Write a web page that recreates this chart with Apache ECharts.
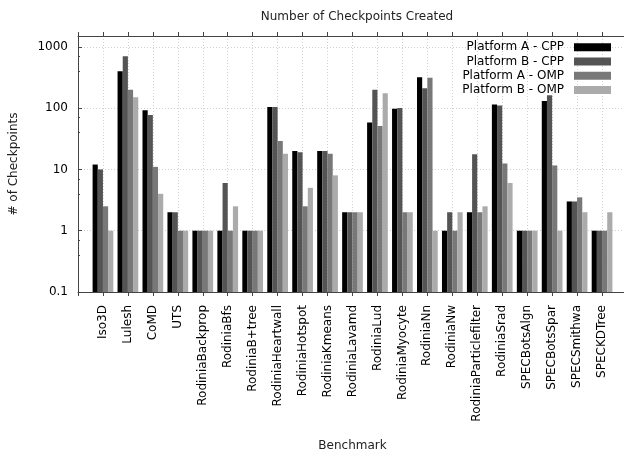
<!DOCTYPE html>
<html>
<head>
<meta charset="utf-8">
<script src="https://cdn.jsdelivr.net/npm/echarts@6/dist/echarts.min.js"></script>
<style>
  html, body { margin: 0; padding: 0; background: #fff; }
  #chart { width: 624px; height: 452px; }
</style>
</head>
<body>
<div id="chart"></div>
<script>
// Benchmarks (the axis has an empty slot at each end)
const benchmarks = [
  'Iso3D', 'Lulesh', 'CoMD', 'UTS', 'RodiniaBackprop', 'RodiniaBfs', 'RodiniaB+tree',
  'RodiniaHeartwall', 'RodiniaHotspot', 'RodiniaKmeans', 'RodiniaLavamd', 'RodiniaLud',
  'RodiniaMyocyte', 'RodiniaNn', 'RodiniaNw', 'RodiniaParticlefilter', 'RodiniaSrad',
  'SPECBotsAlgn', 'SPECBotsSpar', 'SPECSmithwa', 'SPECKDTree'
];

const seriesNames = ['Platform A - CPP', 'Platform B - CPP', 'Platform A - OMP', 'Platform B - OMP'];

// Checkpoint counts per benchmark
const platformA_CPP = [12, 400, 92, 2, 1, 1, 1, 104, 20, 20, 2, 58, 98, 320, 1, 2, 115, 1, 130, 3, 1];
const platformB_CPP = [10, 700, 77, 2, 1, 6, 1, 104, 19, 20, 2, 200, 100, 210, 2, 17.6, 110, 1, 162, 3, 1];
const platformA_OMP = [2.5, 200, 11, 1, 1, 1, 1, 29, 2.5, 18, 2, 51, 2, 314, 1, 2, 12.5, 1, 11.6, 3.5, 1];
const platformB_OMP = [1, 150, 4, 1, 1, 2.5, 1, 18, 5, 8, 2, 175, 2, 1, 2, 2.5, 6, 1, 1, 2, 2];

const yTickValues = [0.1, 1, 10, 100, 1000];

const colors = ['#000000', '#545454', '#787878', '#ababab'];
const FONT = 'DejaVu Sans';

const axisCategories = [''].concat(benchmarks, ['']);
const allSeries = [platformA_CPP, platformB_CPP, platformA_OMP, platformB_OMP];
const Y_MIN = 0.1;
const Y_MAX = 1500;

function makeSeries(k) {
  return {
    name: seriesNames[k],
    type: 'custom',
    xAxisIndex: 0,
    itemStyle: { color: colors[k] },
    encode: { x: 0, y: 1 },
    data: allSeries[k].map((v, i) => [i + 1, v]),
    renderItem: function (params, api) {
      const idx = api.value(0);
      const val = api.value(1);
      const top = api.coord([idx, val]);
      const base = api.coord([idx, Y_MIN]);
      const band = api.size([1, 0])[0];
      const barW = band * 0.83 / 4;
      const x = top[0] - 2 * barW + k * barW;
      return {
        type: 'rect',
        shape: { x: x, y: top[1], width: barW, height: base[1] - top[1] },
        style: api.style()
      };
    }
  };
}

const chart = echarts.init(document.getElementById('chart'), null, { renderer: 'canvas' });

chart.setOption({
  animation: false,
  backgroundColor: '#ffffff',
  textStyle: { fontFamily: FONT },
  title: {
    text: 'Number of Checkpoints Created',
    left: 352,
    textAlign: 'center',
    top: 6,
    textStyle: { fontFamily: FONT, fontSize: 12, fontWeight: 'normal', color: '#222' }
  },
  legend: {
    orient: 'vertical',
    right: 13,
    top: 40,
    padding: 0,
    align: 'right',
    icon: 'rect',
    itemWidth: 37,
    itemHeight: 8,
    itemGap: 0,
    selectedMode: false,
    data: seriesNames,
    textStyle: { fontFamily: FONT, fontSize: 12, color: '#000', lineHeight: 14.3, padding: [0, 5, 0, 0] }
  },
  grid: {
    left: 78,
    top: 36,
    width: 549,
    height: 256,
    outerBoundsMode: 'none',
    containLabel: false,
    show: false
  },
  xAxis: [
    {
      type: 'category',
      position: 'bottom',
      data: axisCategories,
      boundaryGap: false,
      name: 'Benchmark',
      nameLocation: 'middle',
      nameGap: 148,
      nameTextStyle: { fontFamily: FONT, fontSize: 12, color: '#222' },
      axisLine: { show: true, lineStyle: { color: '#444', width: 1 } },
      axisTick: { show: true, inside: false, length: 4, interval: 0, lineStyle: { color: '#444' } },
      axisLabel: {
        rotate: 90,
        interval: 0,
        margin: 13,
        fontFamily: FONT,
        fontSize: 12,
        color: '#000'
      },
      splitLine: { show: true, interval: 0, lineStyle: { color: '#d0d0d0', type: [1, 2], width: 1 } }
    },
    {
      type: 'category',
      position: 'top',
      data: axisCategories,
      boundaryGap: false,
      axisLine: { show: true, lineStyle: { color: '#444', width: 1 } },
      axisTick: { show: true, inside: false, length: 4, interval: 0, lineStyle: { color: '#444' } },
      axisLabel: { show: false },
      splitLine: { show: false }
    }
  ],
  yAxis: {
    type: 'log',
    logBase: 10,
    min: Y_MIN,
    max: Y_MAX,
    name: '# of Checkpoints',
    nameLocation: 'middle',
    nameRotate: 90,
    nameGap: 58,
    nameTextStyle: { fontFamily: FONT, fontSize: 12, color: '#222' },
    axisLine: { show: true, lineStyle: { color: '#444', width: 1 } },
    axisTick: { show: true, inside: true, length: 4, lineStyle: { color: '#444' } },
    minorTick: { show: true, splitNumber: 3, length: 2, lineStyle: { color: '#444' } },
    axisLabel: {
      margin: 10,
      fontFamily: FONT,
      fontSize: 12,
      color: '#000',
      showMaxLabel: false,
      formatter: function (v) {
        const hit = yTickValues.find(t => Math.abs(t - v) / t < 1e-6);
        return hit === undefined ? '' : String(hit);
      }
    },
    splitLine: { show: true, lineStyle: { color: '#d0d0d0', type: [1, 2], width: 1 } }
  },
  series: [0, 1, 2, 3].map(makeSeries)
});
</script>
</body>
</html>
